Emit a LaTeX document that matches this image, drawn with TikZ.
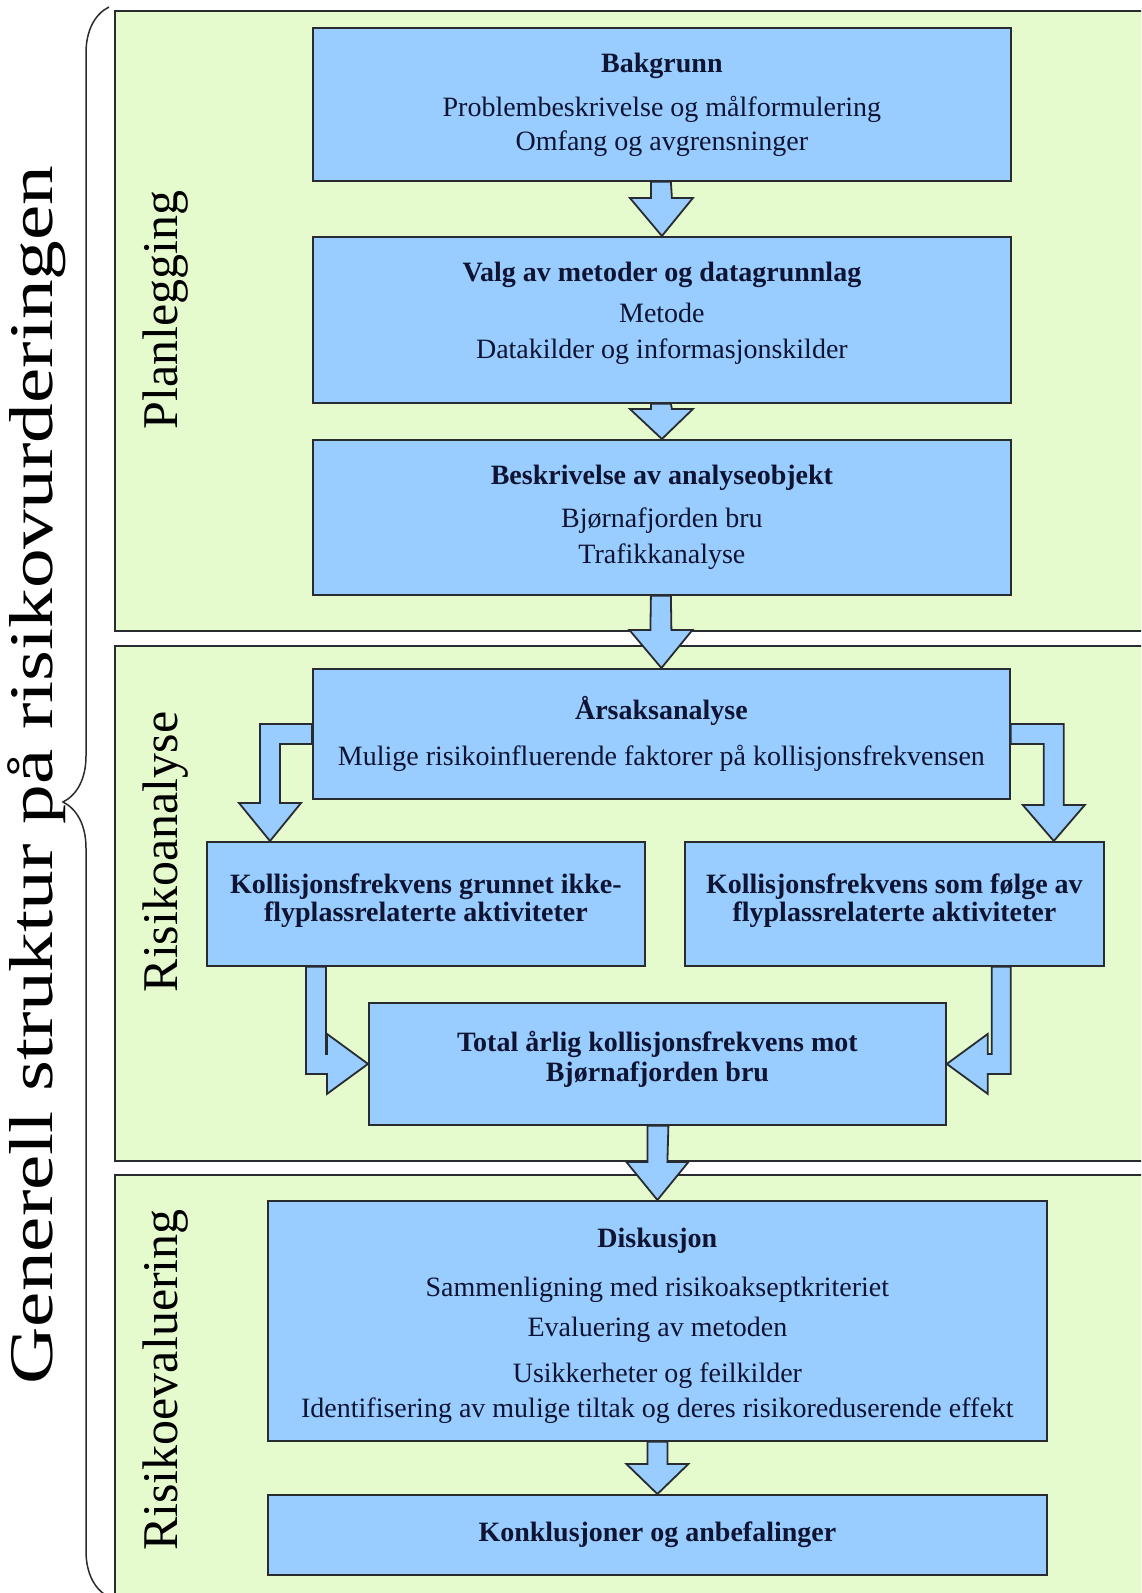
\documentclass[tikz,border=0pt]{standalone}
\usepackage{fontspec}
\setmainfont{Liberation Serif}
\usetikzlibrary{positioning, calc, decorations.pathreplacing}

\definecolor{panelgreen}{RGB}{229,250,205}
\definecolor{boxblue}{RGB}{153,204,255}
\definecolor{edgegray}{RGB}{40,44,48}
\definecolor{inkblue}{RGB}{15,20,50}

\begin{document}
\begin{tikzpicture}[
    x=1pt, y=-1pt,
    panel/.style={rectangle, draw=edgegray, fill=panelgreen, line width=1.8pt, anchor=north west, minimum width=1100pt},
    box/.style={rectangle, draw=edgegray, fill=boxblue, line width=1.8pt, anchor=north west, inner sep=0pt, align=center, text=inkblue, font=\fontsize{28}{34}\selectfont},
    boldbox/.style={box, font=\bfseries\fontsize{28}{34}\selectfont},
    blockarrow/.style={draw=edgegray, fill=boxblue, line width=1.8pt, line join=miter},
    phase/.style={rotate=90, font=\fontsize{50}{50}\selectfont},
]
\useasboundingbox (0,0) rectangle (1141,1593);
\clip (0,0) rectangle (1141,1593);

%% PANELS
    \node[panel, minimum height=620pt] (plan_panel) at (114,10) {};
    \node[panel, minimum height=515pt] (analyse_panel) at (114,645) {};
    \node[panel, minimum height=450pt] (eval_panel) at (114,1174) {};

    \node[phase] (plan_label) at (166,310) {Planlegging};
    \node[phase] (analyse_label) at (166,852) {Risikoanalyse};
    \node[phase] (eval_label) at (166,1380) {Risikoevaluering};

    % brace over all three phases
    \coordinate (brace_bottom) at (109,1597);
    \coordinate (brace_top) at (109,7);
    \draw[decorate, decoration={brace, amplitude=46pt}, line width=1.5pt, draw=edgegray] (brace_bottom) -- (brace_top);
    \node[rotate=90, font=\fontsize{62}{62}\selectfont] (struktur_label) at (37,775)
        {\scalebox{1.28}[1]{Generell struktur på risikovurderingen}};

%% NODES
    % planlegging
    \node[box, minimum width=698pt, minimum height=153pt] (bakgrunn) at (312,27)
        {\textbf{Bakgrunn}\\[10pt] Problembeskrivelse og målformulering\\ Omfang og avgrensninger};
    \node[box, minimum width=698pt, minimum height=166pt] (valg) at (312,236)
        {\textbf{Valg av metoder og datagrunnlag}\\[7pt] Metode\\[2pt] Datakilder og informasjonskilder\rule[-20pt]{0pt}{0pt}};
    \node[box, minimum width=698pt, minimum height=155pt] (beskrivelse) at (312,439)
        {\textbf{Beskrivelse av analyseobjekt}\\[9pt] Bjørnafjorden bru\\[2pt] Trafikkanalyse};

    % risikoanalyse
    \node[box, minimum width=697pt, minimum height=130pt] (aarsak) at (312,668)
        {\textbf{Årsaksanalyse}\\[12pt] Mulige risikoinfluerende faktorer på kollisjonsfrekvensen};
    \node[boldbox, minimum width=438pt, minimum height=124pt] (ikke_fly) at (206,841)
        {Kollisjonsfrekvens grunnet ikke-\\[-6pt] flyplassrelaterte aktiviteter\rule[-13pt]{0pt}{0pt}};
    \node[boldbox, minimum width=419pt, minimum height=124pt] (fly) at (684,841)
        {Kollisjonsfrekvens som følge av\\[-6pt] flyplassrelaterte aktiviteter\rule[-13pt]{0pt}{0pt}};
    \node[boldbox, minimum width=577pt, minimum height=122pt] (total) at (368,1002)
        {Total årlig kollisjonsfrekvens mot\\[-4pt] Bjørnafjorden bru\rule[-15pt]{0pt}{0pt}};

    % risikoevaluering
    \node[box, minimum width=779pt, minimum height=240pt] (diskusjon) at (267,1200)
        {\rule{0pt}{29pt}\textbf{Diskusjon}\\[15pt] Sammenligning med risikoakseptkriteriet\\[6pt] Evaluering av metoden\\[12pt] Usikkerheter og feilkilder\\[1pt] Identifisering av mulige tiltak og deres risikoreduserende effekt};
    \node[box, minimum width=779pt, minimum height=80pt] (konklusjon) at (267,1494)
        {\textbf{Konklusjoner og anbefalinger}};

%% ARROWS
    \draw[blockarrow] ($(bakgrunn.south)+(-11,0)$) -- ($(valg.north)+(-11,-38)$) -- ++(-21,0) -- (valg.north)
        -- ++(31,-38) -- ++(-21,0) -- ($(bakgrunn.south)+(9,0)$) -- cycle;
    \draw[blockarrow] ($(valg.south)+(-11,0)$) -- ($(beskrivelse.north)+(-11,-30)$) -- ++(-21,0) -- (beskrivelse.north)
        -- ++(31,-30) -- ++(-21,0) -- ($(valg.south)+(9,0)$) -- cycle;
    \draw[blockarrow] ($(beskrivelse.south)+(-11,0)$) -- ($(aarsak.north)+(-11,-38)$) -- ++(-21,0) -- (aarsak.north)
        -- ++(31,-38) -- ++(-21,0) -- ($(beskrivelse.south)+(9,0)$) -- cycle;

    \coordinate (tip_a) at ($(ikke_fly.north west)+(64,0)$);
    \coordinate (tip_b) at ($(fly.north east)+(-51,0)$);
    \draw[blockarrow] ($(aarsak.west)+(0,-10)$) -| ($(tip_a)+(-10,-38)$) -- ++(-21,0) -- (tip_a)
        -- ++(31,-38) -- ++(-21,0) |- ($(aarsak.west)+(0,10)$) -- cycle;
    \draw[blockarrow] ($(aarsak.east)+(0,-10)$) -| ($(tip_b)+(10,-36)$) -- ++(21,0) -- (tip_b)
        -- ++(-31,-36) -- ++(21,0) |- ($(aarsak.east)+(0,10)$) -- cycle;

    \draw[blockarrow] ($(ikke_fly.south west)+(100,0)$) |- ($(total.west)+(-41,10)$) -- ++(0,20) -- (total.west)
        -- ++(-41,-30) -- ++(0,20) -| ($(ikke_fly.south west)+(120,0)$) -- cycle;
    \draw[blockarrow] ($(fly.south east)+(-94,0)$) |- ($(total.east)+(41,10)$) -- ++(0,20) -- (total.east)
        -- ++(41,-30) -- ++(0,20) -| ($(fly.south east)+(-113,0)$) -- cycle;

    \draw[blockarrow] ($(total.south)+(-10,0)$) -- ($(diskusjon.north)+(-10,-38)$) -- ++(-21,0) -- (diskusjon.north)
        -- ++(31,-38) -- ++(-21,0) -- ($(total.south)+(11,0)$) -- cycle;
    \draw[blockarrow] ($(diskusjon.south)+(-10,0)$) -- ($(konklusjon.north)+(-10,-30)$) -- ++(-21,0) -- (konklusjon.north)
        -- ++(31,-30) -- ++(-21,0) -- ($(diskusjon.south)+(10,0)$) -- cycle;

\end{tikzpicture}
\end{document}
